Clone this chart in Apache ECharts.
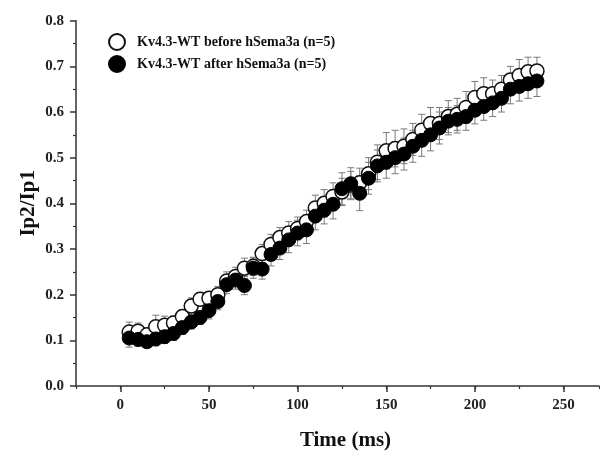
<!DOCTYPE html>
<html><head><meta charset="utf-8">
<script src="https://cdn.jsdelivr.net/npm/echarts@6/dist/echarts.min.js"></script>
<style>html,body{margin:0;padding:0;background:#fff}#c{width:600px;height:456px}</style>
</head><body><div id="c"></div>
<script>
var times = [5,10,15,20,25,30,35,40,45,50,55,60,65,70,75,80,85,90,95,100,105,110,115,120,125,130,135,140,145,150,155,160,165,170,175,180,185,190,195,200,205,210,215,220,225,230,235];
var beforeVals = [0.118,0.120,0.112,0.130,0.133,0.138,0.152,0.175,0.190,0.192,0.200,0.230,0.240,0.258,0.262,0.290,0.310,0.325,0.335,0.345,0.360,0.390,0.400,0.415,0.425,0.440,0.445,0.465,0.490,0.515,0.520,0.525,0.540,0.560,0.575,0.575,0.590,0.595,0.610,0.632,0.640,0.640,0.650,0.670,0.680,0.688,0.690];
var beforeErr = [0.022,0.018,0.015,0.025,0.020,0.015,0.015,0.018,0.015,0.015,0.018,0.020,0.020,0.022,0.020,0.020,0.022,0.022,0.025,0.025,0.025,0.028,0.030,0.030,0.030,0.030,0.032,0.035,0.038,0.040,0.040,0.038,0.035,0.035,0.035,0.035,0.035,0.035,0.035,0.035,0.035,0.030,0.030,0.030,0.035,0.032,0.030];
var afterVals = [0.105,0.102,0.097,0.103,0.108,0.115,0.128,0.140,0.150,0.165,0.185,0.222,0.232,0.220,0.258,0.256,0.288,0.302,0.320,0.335,0.342,0.372,0.385,0.398,0.432,0.443,0.422,0.455,0.482,0.490,0.500,0.508,0.525,0.538,0.550,0.565,0.580,0.584,0.590,0.604,0.612,0.620,0.630,0.650,0.656,0.662,0.668];
var afterErr = [0.020,0.015,0.012,0.015,0.015,0.015,0.015,0.015,0.015,0.018,0.018,0.020,0.020,0.020,0.022,0.022,0.025,0.025,0.028,0.028,0.030,0.030,0.030,0.032,0.035,0.035,0.038,0.035,0.035,0.035,0.035,0.035,0.035,0.035,0.035,0.035,0.030,0.030,0.030,0.030,0.030,0.030,0.030,0.032,0.032,0.032,0.034];
var xTickLabels = [0,50,100,150,200,250];
var seriesNames = ['Kv4.3-WT before hSema3a (n=5)','Kv4.3-WT after hSema3a (n=5)'];

function pts(vals){ return times.map(function(t,i){return [t, vals[i]];}); }
function errs(vals, e){ return times.map(function(t,i){return [t, vals[i]-e[i], vals[i]+e[i]];}); }
function errRender(params, api){
  var x = api.value(0), lo = api.value(1), hi = api.value(2);
  var p1 = api.coord([x, lo]), p2 = api.coord([x, hi]);
  var w = 3.5;
  var st = {stroke:'#7a7a7a', lineWidth:1};
  return {type:'group', children:[
    {type:'line', shape:{x1:p1[0],y1:p1[1],x2:p2[0],y2:p2[1]}, style:st},
    {type:'line', shape:{x1:p1[0]-w,y1:p1[1],x2:p1[0]+w,y2:p1[1]}, style:st},
    {type:'line', shape:{x1:p2[0]-w,y1:p2[1],x2:p2[0]+w,y2:p2[1]}, style:st}
  ]};
}
var font = 'Liberation Serif';
var axisCol = '#333';
var chart = echarts.init(document.getElementById('c'), null, {renderer:'canvas'});
chart.setOption({
  animation:false,
  backgroundColor:'#fff',
  grid:{left:76, right:1, top:20.7, bottom:66, containLabel:false},
  legend:{
    orient:'vertical', left:103, top:28, itemGap:4, itemWidth:16, itemHeight:16,
    data:seriesNames,
    textStyle:{fontFamily:font, fontWeight:'bold', fontSize:14, color:'#111', padding:[0,0,0,7]}
  },
  xAxis:[{
    type:'value', min:-25, max:270,
    name:'Time (ms)', nameLocation:'middle', nameGap:44,
    nameTextStyle:{fontFamily:font, fontWeight:'bold', fontSize:21, color:'#111', padding:[0,0,0,16]},
    axisLine:{onZero:false, lineStyle:{color:axisCol, width:1.5}},
    axisTick:{show:true, length:6, inside:false, customValues:xTickLabels, lineStyle:{color:axisCol, width:1.5}},
    axisLabel:{customValues:xTickLabels, margin:12, fontFamily:font, fontWeight:'bold', fontSize:15, color:'#222'},
    splitLine:{show:false}
  },{
    type:'value', min:-25, max:270, interval:25, position:'bottom',
    axisLine:{show:false, onZero:false},
    axisTick:{show:true, length:3, lineStyle:{color:axisCol, width:1.2}},
    axisLabel:{show:false}, splitLine:{show:false}
  }],
  yAxis:{
    type:'value', min:0, max:0.8, interval:0.1,
    name:'Ip2/Ip1', nameLocation:'middle', nameGap:37, nameMoveOverlap:false,
    nameTextStyle:{fontFamily:font, fontWeight:'bold', fontSize:21, color:'#111'},
    axisLine:{show:true, onZero:false, lineStyle:{color:axisCol, width:1.5}},
    axisTick:{show:true, length:6, lineStyle:{color:axisCol, width:1.5}},
    minorTick:{show:true, splitNumber:2, length:3, lineStyle:{color:axisCol, width:1.2}},
    axisLabel:{margin:12, fontFamily:font, fontWeight:'bold', fontSize:15, color:'#222',
      formatter:function(v){return v.toFixed(1);}},
    splitLine:{show:false}
  },
  series:[
    {type:'custom', name:'errBefore', renderItem:errRender, data:errs(beforeVals, beforeErr), z:1, silent:true},
    {type:'custom', name:'errAfter', renderItem:errRender, data:errs(afterVals, afterErr), z:1, silent:true},
    {type:'scatter', name:seriesNames[0], data:pts(beforeVals), symbol:'circle', symbolSize:14,
      itemStyle:{color:'#fff', borderColor:'#111', borderWidth:1.5, opacity:1}, z:3},
    {type:'scatter', name:seriesNames[1], data:pts(afterVals), symbol:'circle', symbolSize:14,
      itemStyle:{color:'#000', borderColor:'#000', borderWidth:1, opacity:1}, z:4}
  ]
});
</script></body></html>
